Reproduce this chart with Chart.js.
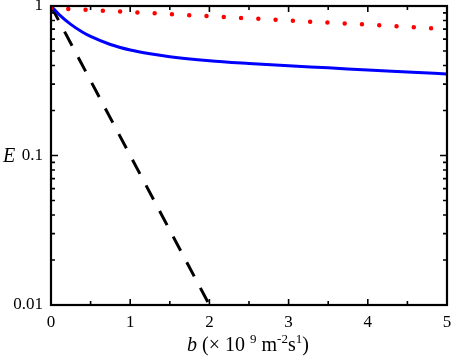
<!DOCTYPE html>
<html>
<head>
<meta charset="utf-8">
<script src="https://cdn.jsdelivr.net/npm/chart.js@4.4.0/dist/chart.umd.min.js"></script>
<style>
  html, body { margin: 0; padding: 0; background: #fff; }
</style>
</head>
<body>
<canvas id="grafico" width="454" height="356"></canvas>
<script>
// valores
const azulB = [0, 0.1, 0.25, 0.4, 0.5, 0.75, 1, 1.25, 1.5, 2, 2.5, 3, 3.5, 4, 4.5, 5];
const azulE = [1, 0.88, 0.754, 0.668, 0.626, 0.553, 0.508, 0.479, 0.458, 0.431, 0.413, 0.398, 0.386, 0.373, 0.362, 0.351];

const vermelhoB = [0, 1, 2, 3, 4, 5];
const vermelhoE = [0.97, 0.91, 0.855, 0.80, 0.75, 0.70];

const pretoB = [0, 2];
const pretoE = [1, 0.01];

const xMajor = [0, 1, 2, 3, 4, 5];
const xMinor = [0.5, 1.5, 2.5, 3.5, 4.5];
const yMajor = [0.01, 0.1, 1];
const yLabels = { 0.01: '0.01', 0.1: '0.1', 1: '1' };

const serif = '"Liberation Serif", "DejaVu Serif", serif';

function pontos(xs, ys) {
    return xs.map((v, i) => ({ x: v, y: ys[i] }));
}

// moldura, ticks internos e títulos dos eixos
const moldura = {
    id: 'moldura',
    afterDraw(chart) {
        const { ctx, chartArea: a, scales: { x, y } } = chart;
        ctx.save();
        ctx.strokeStyle = '#000';
        ctx.lineWidth = 1.6;
        ctx.beginPath();
        xMajor.concat(xMinor).forEach(v => {
            const px = x.getPixelForValue(v);
            const len = Number.isInteger(v) ? 6 : 4;
            ctx.moveTo(px, a.bottom); ctx.lineTo(px, a.bottom - len);
            ctx.moveTo(px, a.top); ctx.lineTo(px, a.top + len);
        });
        [0.01, 0.1].forEach(dec => {
            for (let k = 1; k <= 9; k++) {
                const py = y.getPixelForValue(dec * k);
                const len = k === 1 ? 7 : 4;
                ctx.moveTo(a.left, py); ctx.lineTo(a.left + len, py);
                ctx.moveTo(a.right, py); ctx.lineTo(a.right - len, py);
            }
        });
        ctx.stroke();

        ctx.lineWidth = 2.2;
        ctx.strokeRect(a.left, a.top, a.right - a.left, a.bottom - a.top);

        // título do eixo y
        ctx.fillStyle = '#000';
        ctx.textBaseline = 'middle';
        ctx.textAlign = 'left';
        ctx.font = 'italic 20px ' + serif;
        ctx.fillText('E', 3, y.getPixelForValue(0.1) + 1);

        // título do eixo x: b (× 10^9 m^-2 s^1)
        const partes = [
            { t: 'b', f: 'italic 20px ' + serif, dy: 0 },
            { t: ' (× 10 ', f: '20px ' + serif, dy: 0 },
            { t: '9', f: '13px ' + serif, dy: -8 },
            { t: ' m', f: '20px ' + serif, dy: 0 },
            { t: '-2', f: '13px ' + serif, dy: -8 },
            { t: 's', f: '20px ' + serif, dy: 0 },
            { t: '1', f: '13px ' + serif, dy: -8 },
            { t: ')', f: '20px ' + serif, dy: 0 }
        ];
        ctx.textBaseline = 'alphabetic';
        let largura = 0;
        partes.forEach(p => { ctx.font = p.f; largura += ctx.measureText(p.t).width; });
        let cx = 248 - largura / 2;
        const base = 351;
        partes.forEach(p => {
            ctx.font = p.f;
            ctx.fillText(p.t, cx, base + p.dy);
            cx += ctx.measureText(p.t).width;
        });
        ctx.restore();
    }
};

const ctx = document.getElementById('grafico').getContext('2d');

new Chart(ctx, {
    type: 'line',
    data: {
        datasets: [
            {
                data: pontos(vermelhoB, vermelhoE),
                borderColor: '#ff0000',
                borderWidth: 4.5,
                borderDash: [0, 17.3],
                borderCapStyle: 'round',
                pointRadius: 0,
                fill: false
            },
            {
                data: pontos(azulB, azulE),
                borderColor: '#0000ff',
                borderWidth: 3,
                cubicInterpolationMode: 'monotone',
                pointRadius: 0,
                fill: false
            },
            {
                data: pontos(pretoB, pretoE),
                borderColor: '#000000',
                borderWidth: 3,
                borderDash: [16, 13],
                pointRadius: 0,
                fill: false
            }
        ]
    },
    options: {
        responsive: false,
        animation: false,
        layout: { padding: { top: 6, right: 7, left: 0, bottom: 0 } },
        plugins: {
            legend: { display: false },
            tooltip: { enabled: false }
        },
        scales: {
            x: {
                type: 'linear',
                min: 0,
                max: 5,
                afterBuildTicks: s => { s.ticks = xMajor.map(v => ({ value: v })); },
                afterFit: s => { s.height = 51; s.paddingLeft = 0; s.paddingRight = 0; },
                grid: { display: false, drawTicks: false },
                border: { display: false },
                ticks: {
                    color: '#000',
                    padding: 7,
                    maxRotation: 0,
                    font: { family: serif, size: 17 },
                    callback: v => String(v)
                }
            },
            y: {
                type: 'logarithmic',
                min: 0.01,
                max: 1,
                afterBuildTicks: s => { s.ticks = yMajor.map(v => ({ value: v })); },
                afterFit: s => { s.width = 51; s.paddingTop = 0; s.paddingBottom = 0; },
                grid: { display: false, drawTicks: false },
                border: { display: false },
                ticks: {
                    color: '#000',
                    padding: 8,
                    autoSkip: false,
                    font: { family: serif, size: 17 },
                    callback: v => yLabels[v] || ''
                }
            }
        }
    },
    plugins: [moldura]
});
</script>
</body>
</html>
